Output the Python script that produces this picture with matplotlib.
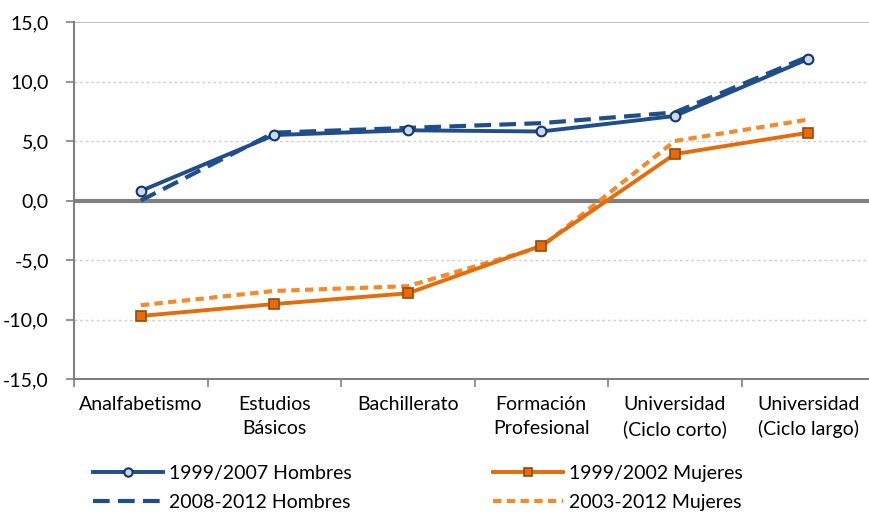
import matplotlib
matplotlib.use("Agg")
import matplotlib.pyplot as plt
from matplotlib.lines import Line2D
import numpy as np

categories = ["Analfabetismo", "Estudios\nBásicos", "Bachillerato", "Formación\nProfesional",
              "Universidad\n(Ciclo corto)", "Universidad\n(Ciclo largo)"]
hombres_9907 = [0.8, 5.5, 5.9, 5.8, 7.1, 11.9]
hombres_0812 = [0.0, 5.7, 6.1, 6.5, 7.4, 12.1]
mujeres_9902 = [-9.7, -8.7, -7.8, -3.8, 3.9, 5.7]
mujeres_0312 = [-8.8, -7.6, -7.2, -3.9, 5.0, 6.8]
yticks = [-15, -10, -5, 0, 5, 10, 15]

plt.rcParams['font.family'] = ['Lato', 'DejaVu Sans']

W, H = 869, 515
fig = plt.figure(figsize=(W/100, H/100), dpi=100)
left, right, top, bottom = 74, 875, 22, 379
ax = fig.add_axes([left/W, 1-bottom/H, (right-left)/W, (bottom-top)/H])

x = np.arange(len(categories))
blue = "#1F4E8A"
orange = "#E46C0A"
orange2 = "#F58A2A"

ax.set_xlim(-0.5, len(categories)-0.5)
ax.set_ylim(-15, 15)

for v in [-10, -5, 5, 10]:
    ax.axhline(v, color="#D0D0D0", lw=1, ls=(0, (2, 2)), zorder=1)
ax.axhline(15, color="#BEBEBE", lw=1.5, zorder=1)
ax.axhline(0, color="#808080", lw=3, zorder=2)

ax.plot(x, hombres_0812, color=blue, lw=3, ls=(0, (4, 2)), zorder=3)
ax.plot(x, mujeres_0312, color=orange2, lw=3, ls=(0, (2, 1.3)), zorder=3)
ax.plot(x, hombres_9907, color=blue, lw=2.8, marker="o", ms=7, mfc="#C6D9F1",
        mec="#17375E", mew=1.5, zorder=4)
ax.plot(x, mujeres_9902, color=orange, lw=2.8, marker="s", ms=7, mfc=orange,
        mec="#984807", mew=1.2, zorder=4)

for s in ["top", "right"]:
    ax.spines[s].set_visible(False)
ax.spines["left"].set_color("#808080")
ax.spines["left"].set_linewidth(1.5)
ax.spines["bottom"].set_color("#808080")
ax.spines["bottom"].set_linewidth(1.5)

ax.set_yticks(yticks)
ax.set_yticklabels([f"{v:.1f}".replace(".", ",") for v in yticks], fontsize=14)
ax.tick_params(axis="y", length=6, color="#808080", width=1.2, pad=12)

ax.set_xticks(np.arange(-0.5, len(categories), 1.0), minor=False)
ax.set_xticklabels([])
ax.set_xticks(x, minor=True)
ax.set_xticklabels(categories, minor=True, fontsize=14, linespacing=1.5)
ax.tick_params(axis="x", which="major", length=6, color="#808080", width=1.2)
ax.tick_params(axis="x", which="minor", length=0, pad=12)

h1 = [Line2D([], [], color=blue, lw=2.8, marker="o", ms=6, mfc="#C6D9F1", mec="#17375E", mew=1.5),
      Line2D([], [], color=blue, lw=3, ls=(0, (4, 2)))]
h2 = [Line2D([], [], color=orange, lw=2.8, marker="s", ms=6, mfc=orange, mec="#984807", mew=1.2),
      Line2D([], [], color=orange2, lw=3, ls=(0, (2, 1.3)))]
kw = dict(loc="upper left", frameon=False, fontsize=14, handlelength=3.6,
          handletextpad=0.3, labelspacing=0.6, borderaxespad=0, borderpad=0)
fig.legend(h1, ["1999/2007 Hombres", "2008-2012 Hombres"],
           bbox_to_anchor=(93/W, 1-465/H), **kw)
fig.legend(h2, ["1999/2002 Mujeres", "2003-2012 Mujeres"],
           bbox_to_anchor=(493/W, 1-465/H), **kw)

fig.savefig("out.png", dpi=100)
